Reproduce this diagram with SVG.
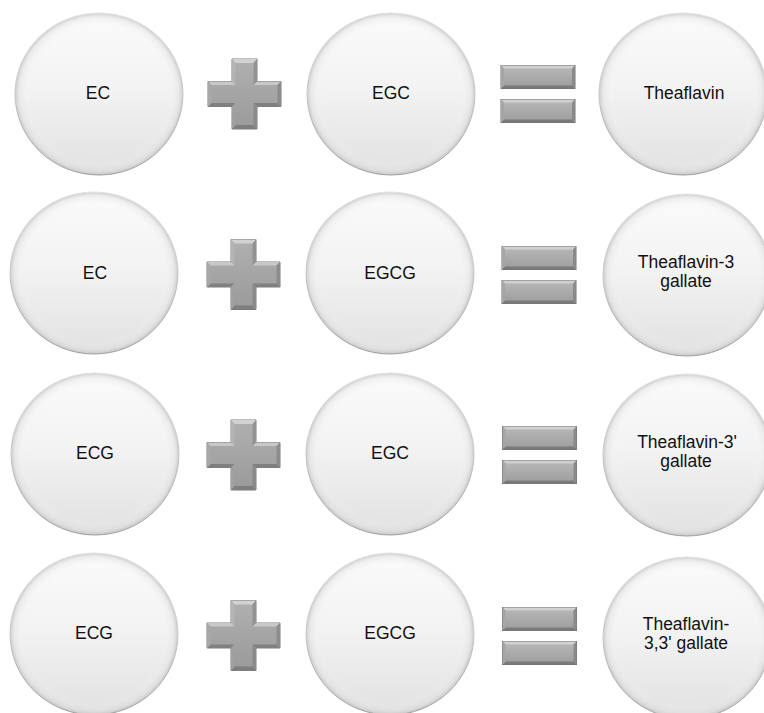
<svg xmlns="http://www.w3.org/2000/svg" width="764" height="713" viewBox="0 0 764 713">
  <defs>
    <linearGradient id="ballFill" x1="0" y1="0" x2="0" y2="1">
      <stop offset="0" stop-color="#fbfbfb"/>
      <stop offset="0.45" stop-color="#f3f3f3"/>
      <stop offset="1" stop-color="#e1e1e1"/>
    </linearGradient>
    <radialGradient id="ballRim" cx="0.5" cy="0.5" r="0.5">
      <stop offset="0.82" stop-color="#ffffff" stop-opacity="0"/>
      <stop offset="0.95" stop-color="#d8d8d8" stop-opacity="0.35"/>
      <stop offset="1" stop-color="#b8b8b8" stop-opacity="0.7"/>
    </radialGradient>
    <linearGradient id="ballStroke" x1="0" y1="0" x2="0" y2="1">
      <stop offset="0" stop-color="#e4e4e4"/>
      <stop offset="0.5" stop-color="#c8c8c8"/>
      <stop offset="1" stop-color="#a0a0a0"/>
    </linearGradient>
    <linearGradient id="barFill" x1="0" y1="0" x2="0" y2="1">
      <stop offset="0" stop-color="#b9b9b9"/>
      <stop offset="1" stop-color="#9c9c9c"/>
    </linearGradient>
    <linearGradient id="plusFill" x1="0" y1="0" x2="0" y2="1">
      <stop offset="0" stop-color="#b0b0b0"/>
      <stop offset="1" stop-color="#9a9a9a"/>
    </linearGradient>
    <g id="ball">
      <ellipse cx="0" cy="0" rx="84" ry="81" fill="url(#ballFill)"/>
      <ellipse cx="0" cy="0" rx="84" ry="81" fill="url(#ballRim)" stroke="url(#ballStroke)" stroke-width="1"/>
    </g>
    <g id="plus">
      <path d="M-12.5,-35 H12.5 V-12.5 H36.5 V12.5 H12.5 V35 H-12.5 V12.5 H-36.5 V-12.5 H-12.5 Z" fill="url(#plusFill)" stroke="#7c7c7c" stroke-width="1"/>
      <polygon points="-12.5,-35 12.5,-35 9,-31 -9,-31" fill="#d2d2d2"/>
      <polygon points="-36.5,-12.5 -12.5,-12.5 -9,-9 -33,-9" fill="#c8c8c8"/>
      <polygon points="12.5,-12.5 36.5,-12.5 33,-9 9,-9" fill="#c8c8c8"/>
      <polygon points="-12.5,35 12.5,35 9,31 -9,31" fill="#7e7e7e"/>
      <polygon points="-36.5,12.5 -12.5,12.5 -9,9 -33,9" fill="#808080"/>
      <polygon points="12.5,12.5 36.5,12.5 33,9 9,9" fill="#808080"/>
      <polygon points="-36.5,-12.5 -33,-9 -33,9 -36.5,12.5" fill="#a8a8a8"/>
      <polygon points="36.5,-12.5 33,-9 33,9 36.5,12.5" fill="#8c8c8c"/>
      <polygon points="-12.5,-35 -9,-31 -9,-9 -12.5,-12.5" fill="#b4b4b4"/>
      <polygon points="12.5,-35 9,-31 9,-9 12.5,-12.5" fill="#939393"/>
      <polygon points="-12.5,35 -9,31 -9,9 -12.5,12.5" fill="#a0a0a0"/>
      <polygon points="12.5,35 9,31 9,9 12.5,12.5" fill="#8a8a8a"/>
    </g>
    <g id="bar">
      <rect x="-37" y="-11.5" width="74" height="23" fill="url(#barFill)" stroke="#747474" stroke-width="1"/>
      <polygon points="-37,-11.5 37,-11.5 34,-8.5 -34,-8.5" fill="#d0d0d0"/>
      <polygon points="-37,11.5 37,11.5 34,8.5 -34,8.5" fill="#7a7a7a"/>
      <polygon points="-37,-11.5 -34,-8.5 -34,8.5 -37,11.5" fill="#a6a6a6"/>
      <polygon points="37,-11.5 34,-8.5 34,8.5 37,11.5" fill="#8a8a8a"/>
    </g>
    <g id="equals">
      <use href="#bar" x="0" y="-17"/>
      <use href="#bar" x="0" y="17"/>
    </g>
  </defs>
  <style>
    text { font-family: "Liberation Sans", Arial, sans-serif; font-size: 17.5px; fill: #111111; text-anchor: middle; }
  </style>
  <rect width="764" height="713" fill="#ffffff"/>

  <!-- Row 1 -->
  <g id="r1-ec"><use href="#ball" x="99" y="94"/><text x="98" y="99">EC</text></g>
  <g id="r1-egc"><use href="#ball" x="391" y="94"/><text x="391" y="99">EGC</text></g>
  <g id="r1-theaflavin"><use href="#ball" x="683" y="94"/><text x="684" y="99">Theaflavin</text></g>

  <!-- Row 2 -->
  <g id="r2-ec"><use href="#ball" x="94" y="273"/><text x="95" y="279">EC</text></g>
  <g id="r2-egcg"><use href="#ball" x="390" y="273"/><text x="390" y="279">EGCG</text></g>
  <g id="r2-tf3g"><use href="#ball" x="687" y="275"/><text x="686" y="268">Theaflavin-3</text><text x="686" y="287">gallate</text></g>

  <!-- Row 3 -->
  <g id="r3-ecg"><use href="#ball" x="95" y="454"/><text x="95" y="459">ECG</text></g>
  <g id="r3-egc"><use href="#ball" x="390" y="454"/><text x="390" y="459">EGC</text></g>
  <g id="r3-tf3pg"><use href="#ball" x="687" y="455"/><text x="687" y="448">Theaflavin-3'</text><text x="686" y="467">gallate</text></g>

  <!-- Row 4 -->
  <g id="r4-ecg"><use href="#ball" x="94" y="634"/><text x="94" y="639">ECG</text></g>
  <g id="r4-egcg"><use href="#ball" x="390" y="634"/><text x="390" y="639">EGCG</text></g>
  <g id="r4-tf33g"><use href="#ball" x="687" y="638"/><text x="686" y="630">Theaflavin-</text><text x="686" y="649">3,3' gallate</text></g>

  <!-- Operators -->
  <g id="operators">
    <use href="#plus" x="244.5" y="94"/>
    <use href="#plus" x="243.5" y="274.5"/>
    <use href="#plus" x="243.5" y="455"/>
    <use href="#plus" x="243.5" y="635.5"/>
    <use href="#equals" x="538" y="94"/>
    <use href="#equals" x="539" y="275"/>
    <use href="#equals" x="539.5" y="455"/>
    <use href="#equals" x="539.5" y="636"/>
  </g>
</svg>
